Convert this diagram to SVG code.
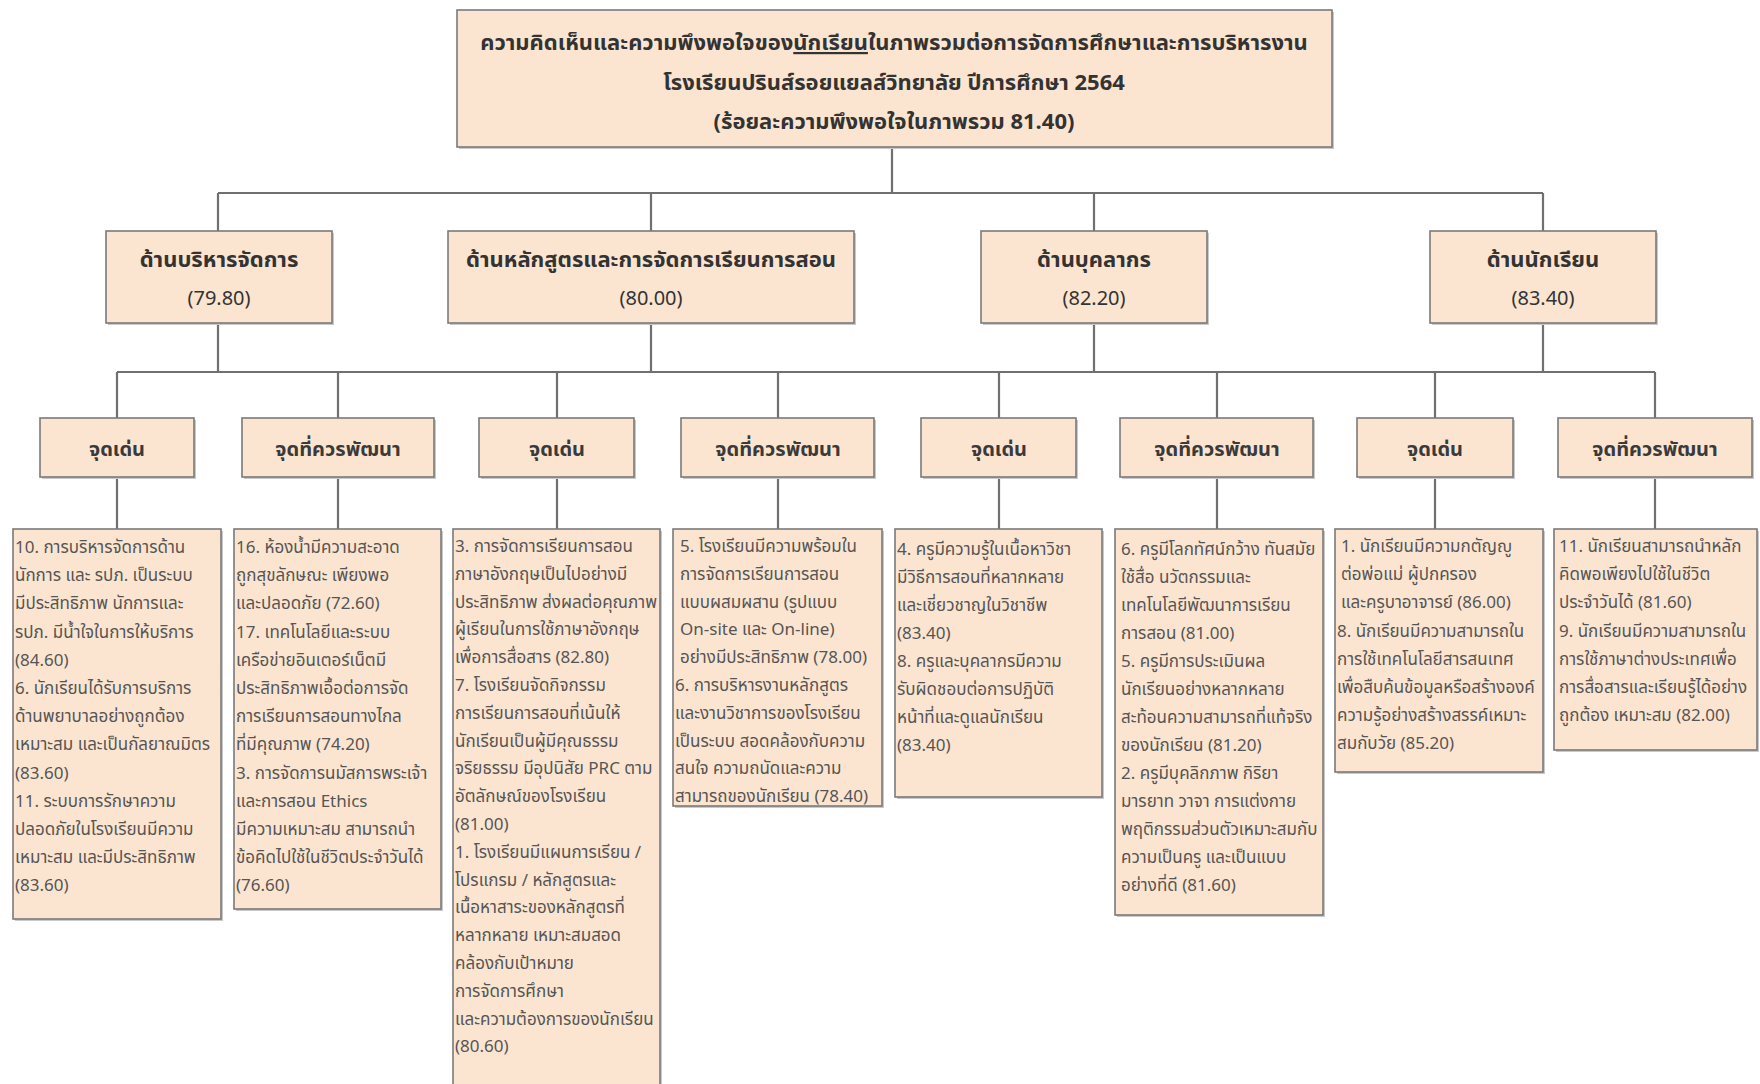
<svg xmlns="http://www.w3.org/2000/svg" width="1760" height="1084" viewBox="0 0 1760 1084">
<defs>
<style>
.bx{fill:#fce5d0;stroke:#7a7a7a;stroke-width:1.6}
.sh{fill:#c9c9c9}
.ln{fill:none;stroke:#707070;stroke-width:2.2}
text{font-family:"Noto Sans Thai","Noto Sans Thai UI",Tahoma,"Noto Sans","DejaVu Sans",sans-serif}
.t1{font-size:22px;font-weight:bold;fill:#333;text-anchor:middle}
.t2{font-size:22px;font-weight:bold;fill:#333;text-anchor:middle}
.n2{font-size:20px;fill:#333;text-anchor:middle}
.t3{font-size:20px;font-weight:bold;fill:#3a3a3a;text-anchor:middle}
.b{font-size:17px;fill:#555}
</style>
</defs>
<rect width="1760" height="1084" fill="#ffffff"/>

<g id="connectors">
<path class="ln" d="M892,147 V193 M218,193 H1543 M218,193 V231 M651,193 V231 M1094,193 V231 M1543,193 V231"/>
<path class="ln" d="M218,323 V372 M651,323 V372 M1094,323 V372 M1543,323 V372 M117,372 H1655"/>
<path class="ln" d="M117,372 V418 M338,372 V418 M557,372 V418 M778,372 V418 M999,372 V418 M1217,372 V418 M1435,372 V418 M1655,372 V418"/>
<path class="ln" d="M117,477 V529 M338,477 V529 M557,477 V529 M778,477 V529 M999,477 V529 M1217,477 V529 M1435,477 V529 M1655,477 V529"/>
</g>

<g id="root">
<rect class="sh" x="459" y="12" width="875" height="137"/>
<rect class="bx" x="457" y="10" width="875" height="137"/>
<text class="t1" x="894" y="50">ความคิดเห็นและความพึงพอใจของ<tspan text-decoration="underline">นักเรียน</tspan>ในภาพรวมต่อการจัดการศึกษาและการบริหารงาน</text>
<text class="t1" x="894" y="90">โรงเรียนปรินส์รอยแยลส์วิทยาลัย ปีการศึกษา 2564</text>
<text class="t1" x="894" y="129">(ร้อยละความพึงพอใจในภาพรวม 81.40)</text>
</g>

<g id="admin">
<rect class="sh" x="108" y="233" width="226" height="92"/>
<rect class="bx" x="106" y="231" width="226" height="92"/>
<text class="t2" x="219" y="267">ด้านบริหารจัดการ</text>
<text class="n2" x="219" y="305">(79.80)</text>
</g>
<g id="curriculum">
<rect class="sh" x="450" y="233" width="406" height="92"/>
<rect class="bx" x="448" y="231" width="406" height="92"/>
<text class="t2" x="651" y="267">ด้านหลักสูตรและการจัดการเรียนการสอน</text>
<text class="n2" x="651" y="305">(80.00)</text>
</g>
<g id="personnel">
<rect class="sh" x="983" y="233" width="226" height="92"/>
<rect class="bx" x="981" y="231" width="226" height="92"/>
<text class="t2" x="1094" y="267">ด้านบุคลากร</text>
<text class="n2" x="1094" y="305">(82.20)</text>
</g>
<g id="students">
<rect class="sh" x="1432" y="233" width="226" height="92"/>
<rect class="bx" x="1430" y="231" width="226" height="92"/>
<text class="t2" x="1543" y="267">ด้านนักเรียน</text>
<text class="n2" x="1543" y="305">(83.40)</text>
</g>

<g id="admin-strength">
<rect class="sh" x="42" y="420" width="154" height="59"/>
<rect class="bx" x="40" y="418" width="154" height="59"/>
<text class="t3" x="117" y="456">จุดเด่น</text>
</g>
<g id="admin-improve">
<rect class="sh" x="244" y="420" width="192" height="59"/>
<rect class="bx" x="242" y="418" width="192" height="59"/>
<text class="t3" x="338" y="456">จุดที่ควรพัฒนา</text>
</g>
<g id="curr-strength">
<rect class="sh" x="481" y="420" width="155" height="59"/>
<rect class="bx" x="479" y="418" width="155" height="59"/>
<text class="t3" x="557" y="456">จุดเด่น</text>
</g>
<g id="curr-improve">
<rect class="sh" x="683" y="420" width="193" height="59"/>
<rect class="bx" x="681" y="418" width="193" height="59"/>
<text class="t3" x="778" y="456">จุดที่ควรพัฒนา</text>
</g>
<g id="pers-strength">
<rect class="sh" x="923" y="420" width="155" height="59"/>
<rect class="bx" x="921" y="418" width="155" height="59"/>
<text class="t3" x="999" y="456">จุดเด่น</text>
</g>
<g id="pers-improve">
<rect class="sh" x="1122" y="420" width="193" height="59"/>
<rect class="bx" x="1120" y="418" width="193" height="59"/>
<text class="t3" x="1217" y="456">จุดที่ควรพัฒนา</text>
</g>
<g id="stud-strength">
<rect class="sh" x="1359" y="420" width="156" height="59"/>
<rect class="bx" x="1357" y="418" width="156" height="59"/>
<text class="t3" x="1435" y="456">จุดเด่น</text>
</g>
<g id="stud-improve">
<rect class="sh" x="1560" y="420" width="194" height="59"/>
<rect class="bx" x="1558" y="418" width="194" height="59"/>
<text class="t3" x="1655" y="456">จุดที่ควรพัฒนา</text>
</g>

<g id="admin-strength-detail">
<rect class="sh" x="15" y="531" width="208" height="390"/>
<rect class="bx" x="13" y="529" width="208" height="390"/>
<text class="b" y="553">
<tspan x="15">10. การบริหารจัดการด้าน</tspan>
<tspan x="15" dy="28.2">นักการ และ รปภ. เป็นระบบ</tspan>
<tspan x="15" dy="28.2">มีประสิทธิภาพ นักการและ</tspan>
<tspan x="15" dy="28.2">รปภ. มีน้ำใจในการให้บริการ</tspan>
<tspan x="15" dy="28.2">(84.60)</tspan>
<tspan x="15" dy="28.2">6. นักเรียนได้รับการบริการ</tspan>
<tspan x="15" dy="28.2">ด้านพยาบาลอย่างถูกต้อง</tspan>
<tspan x="15" dy="28.2">เหมาะสม และเป็นกัลยาณมิตร</tspan>
<tspan x="15" dy="28.2">(83.60)</tspan>
<tspan x="15" dy="28.2">11. ระบบการรักษาความ</tspan>
<tspan x="15" dy="28.2">ปลอดภัยในโรงเรียนมีความ</tspan>
<tspan x="15" dy="28.2">เหมาะสม และมีประสิทธิภาพ</tspan>
<tspan x="15" dy="28.2">(83.60)</tspan>
</text>
</g>

<g id="admin-improve-detail">
<rect class="sh" x="236" y="531" width="207" height="380"/>
<rect class="bx" x="234" y="529" width="207" height="380"/>
<text class="b" y="553">
<tspan x="236">16. ห้องน้ำมีความสะอาด</tspan>
<tspan x="236" dy="28.2">ถูกสุขลักษณะ เพียงพอ</tspan>
<tspan x="236" dy="28.2">และปลอดภัย (72.60)</tspan>
<tspan x="236" dy="28.2">17. เทคโนโลยีและระบบ</tspan>
<tspan x="236" dy="28.2">เครือข่ายอินเตอร์เน็ตมี</tspan>
<tspan x="236" dy="28.2">ประสิทธิภาพเอื้อต่อการจัด</tspan>
<tspan x="236" dy="28.2">การเรียนการสอนทางไกล</tspan>
<tspan x="236" dy="28.2">ที่มีคุณภาพ (74.20)</tspan>
<tspan x="236" dy="28.2">3. การจัดการนมัสการพระเจ้า</tspan>
<tspan x="236" dy="28.2">และการสอน Ethics</tspan>
<tspan x="236" dy="28.2">มีความเหมาะสม สามารถนำ</tspan>
<tspan x="236" dy="28.2">ข้อคิดไปใช้ในชีวิตประจำวันได้</tspan>
<tspan x="236" dy="28.2">(76.60)</tspan>
</text>
</g>

<g id="curr-strength-detail">
<rect class="sh" x="455" y="531" width="207" height="565"/>
<rect class="bx" x="453" y="529" width="207" height="565"/>
<text class="b" y="552">
<tspan x="455">3. การจัดการเรียนการสอน</tspan>
<tspan x="455" dy="27.8">ภาษาอังกฤษเป็นไปอย่างมี</tspan>
<tspan x="455" dy="27.8">ประสิทธิภาพ ส่งผลต่อคุณภาพ</tspan>
<tspan x="455" dy="27.8">ผู้เรียนในการใช้ภาษาอังกฤษ</tspan>
<tspan x="455" dy="27.8">เพื่อการสื่อสาร (82.80)</tspan>
<tspan x="455" dy="27.8">7. โรงเรียนจัดกิจกรรม</tspan>
<tspan x="455" dy="27.8">การเรียนการสอนที่เน้นให้</tspan>
<tspan x="455" dy="27.8">นักเรียนเป็นผู้มีคุณธรรม</tspan>
<tspan x="455" dy="27.8">จริยธรรม มีอุปนิสัย PRC ตาม</tspan>
<tspan x="455" dy="27.8">อัตลักษณ์ของโรงเรียน</tspan>
<tspan x="455" dy="27.8">(81.00)</tspan>
<tspan x="455" dy="27.8">1. โรงเรียนมีแผนการเรียน /</tspan>
<tspan x="455" dy="27.8">โปรแกรม / หลักสูตรและ</tspan>
<tspan x="455" dy="27.8">เนื้อหาสาระของหลักสูตรที่</tspan>
<tspan x="455" dy="27.8">หลากหลาย เหมาะสมสอด</tspan>
<tspan x="455" dy="27.8">คล้องกับเป้าหมาย</tspan>
<tspan x="455" dy="27.8">การจัดการศึกษา</tspan>
<tspan x="455" dy="27.8">และความต้องการของนักเรียน</tspan>
<tspan x="455" dy="27.8">(80.60)</tspan>
</text>
</g>

<g id="curr-improve-detail">
<rect class="sh" x="675" y="531" width="209" height="277"/>
<rect class="bx" x="673" y="529" width="209" height="277"/>
<text class="b" y="552">
<tspan x="680">5. โรงเรียนมีความพร้อมใน</tspan>
<tspan x="680" dy="27.8">การจัดการเรียนการสอน</tspan>
<tspan x="680" dy="27.8">แบบผสมผสาน (รูปแบบ</tspan>
<tspan x="680" dy="27.8">On-site และ On-line)</tspan>
<tspan x="680" dy="27.8">อย่างมีประสิทธิภาพ (78.00)</tspan>
<tspan x="675" dy="27.8">6. การบริหารงานหลักสูตร</tspan>
<tspan x="675" dy="27.8">และงานวิชาการของโรงเรียน</tspan>
<tspan x="675" dy="27.8">เป็นระบบ สอดคล้องกับความ</tspan>
<tspan x="675" dy="27.8">สนใจ ความถนัดและความ</tspan>
<tspan x="675" dy="27.8">สามารถของนักเรียน (78.40)</tspan>
</text>
</g>

<g id="pers-strength-detail">
<rect class="sh" x="897" y="531" width="207" height="268"/>
<rect class="bx" x="895" y="529" width="207" height="268"/>
<text class="b" y="555">
<tspan x="897">4. ครูมีความรู้ในเนื้อหาวิชา</tspan>
<tspan x="897" dy="28">มีวิธีการสอนที่หลากหลาย</tspan>
<tspan x="897" dy="28">และเชี่ยวชาญในวิชาชีพ</tspan>
<tspan x="897" dy="28">(83.40)</tspan>
<tspan x="897" dy="28">8. ครูและบุคลากรมีความ</tspan>
<tspan x="897" dy="28">รับผิดชอบต่อการปฏิบัติ</tspan>
<tspan x="897" dy="28">หน้าที่และดูแลนักเรียน</tspan>
<tspan x="897" dy="28">(83.40)</tspan>
</text>
</g>

<g id="pers-improve-detail">
<rect class="sh" x="1117" y="531" width="208" height="386"/>
<rect class="bx" x="1115" y="529" width="208" height="386"/>
<text class="b" y="555">
<tspan x="1121">6. ครูมีโลกทัศน์กว้าง ทันสมัย</tspan>
<tspan x="1121" dy="28">ใช้สื่อ นวัตกรรมและ</tspan>
<tspan x="1121" dy="28">เทคโนโลยีพัฒนาการเรียน</tspan>
<tspan x="1121" dy="28">การสอน (81.00)</tspan>
<tspan x="1121" dy="28">5. ครูมีการประเมินผล</tspan>
<tspan x="1121" dy="28">นักเรียนอย่างหลากหลาย</tspan>
<tspan x="1121" dy="28">สะท้อนความสามารถที่แท้จริง</tspan>
<tspan x="1121" dy="28">ของนักเรียน (81.20)</tspan>
<tspan x="1121" dy="28">2. ครูมีบุคลิกภาพ กิริยา</tspan>
<tspan x="1121" dy="28">มารยาท วาจา การแต่งกาย</tspan>
<tspan x="1121" dy="28">พฤติกรรมส่วนตัวเหมาะสมกับ</tspan>
<tspan x="1121" dy="28">ความเป็นครู และเป็นแบบ</tspan>
<tspan x="1121" dy="28">อย่างที่ดี (81.60)</tspan>
</text>
</g>

<g id="stud-strength-detail">
<rect class="sh" x="1337" y="531" width="208" height="243"/>
<rect class="bx" x="1335" y="529" width="208" height="243"/>
<text class="b" y="552">
<tspan x="1341">1. นักเรียนมีความกตัญญู</tspan>
<tspan x="1341" dy="28.2">ต่อพ่อแม่ ผู้ปกครอง</tspan>
<tspan x="1341" dy="28.2">และครูบาอาจารย์ (86.00)</tspan>
<tspan x="1337" dy="28.2">8. นักเรียนมีความสามารถใน</tspan>
<tspan x="1337" dy="28.2">การใช้เทคโนโลยีสารสนเทศ</tspan>
<tspan x="1337" dy="28.2">เพื่อสืบค้นข้อมูลหรือสร้างองค์</tspan>
<tspan x="1337" dy="28.2">ความรู้อย่างสร้างสรรค์เหมาะ</tspan>
<tspan x="1337" dy="28.2">สมกับวัย (85.20)</tspan>
</text>
</g>

<g id="stud-improve-detail">
<rect class="sh" x="1556" y="531" width="203" height="221"/>
<rect class="bx" x="1554" y="529" width="203" height="221"/>
<text class="b" y="552">
<tspan x="1559">11. นักเรียนสามารถนำหลัก</tspan>
<tspan x="1559" dy="28.2">คิดพอเพียงไปใช้ในชีวิต</tspan>
<tspan x="1559" dy="28.2">ประจำวันได้ (81.60)</tspan>
<tspan x="1559" dy="28.2">9. นักเรียนมีความสามารถใน</tspan>
<tspan x="1559" dy="28.2">การใช้ภาษาต่างประเทศเพื่อ</tspan>
<tspan x="1559" dy="28.2">การสื่อสารและเรียนรู้ได้อย่าง</tspan>
<tspan x="1559" dy="28.2">ถูกต้อง เหมาะสม (82.00)</tspan>
</text>
</g>
</svg>
